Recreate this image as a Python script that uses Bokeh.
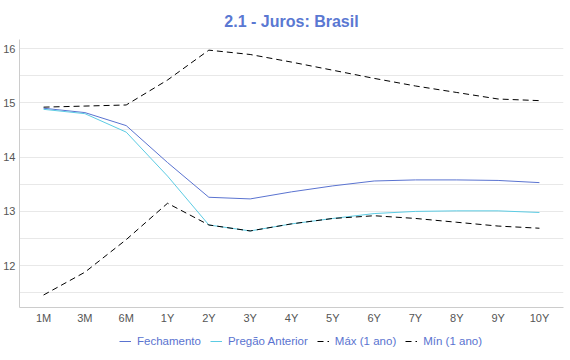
from bokeh.plotting import figure
from bokeh.layouts import column
from bokeh.models import FactorRange, Range1d, Legend, LegendItem, SingleIntervalTicker, ColumnDataSource
from bokeh.embed import file_html
from bokeh.resources import INLINE

categories = ["1M", "3M", "6M", "1Y", "2Y", "3Y", "4Y", "5Y", "6Y", "7Y", "8Y", "9Y", "10Y"]
fechamento = [14.90, 14.82, 14.58, 13.90, 13.26, 13.23, 13.36, 13.47, 13.56, 13.58, 13.58, 13.57, 13.53]
pregao_anterior = [14.88, 14.80, 14.46, 13.65, 12.75, 12.64, 12.77, 12.87, 12.96, 13.00, 13.01, 13.01, 12.98]
maximo = [14.92, 14.94, 14.96, 15.42, 15.97, 15.89, 15.75, 15.60, 15.45, 15.31, 15.19, 15.07, 15.04]
minimo = [11.46, 11.88, 12.48, 13.15, 12.75, 12.64, 12.77, 12.87, 12.92, 12.87, 12.80, 12.73, 12.69]
series_names = ["Fechamento", "Pregão Anterior", "Máx (1 ano)", "Mín (1 ano)"]

FONT = "Liberation Sans"
BLUE = "#5a73d0"
CYAN = "#5ccbe3"
TITLE_BLUE = "#5a78d2"
styles = [dict(line_color=BLUE), dict(line_color=CYAN),
          dict(line_color="black", line_dash="6 4"), dict(line_color="black", line_dash="6 4")]

src = ColumnDataSource(dict(x=categories, f=fechamento, p=pregao_anterior, mx=maximo, mn=minimo))

p = figure(frame_width=544, frame_height=268,
           x_range=FactorRange(*categories, range_padding=0.0127),
           y_range=Range1d(11.23, 16.166), output_backend="svg", toolbar_location=None,
           title="2.1 - Juros: Brasil")
p.title.align = "center"
p.title.text_font = FONT
p.title.text_font_size = "16px"
p.title.text_font_style = "bold"
p.title.text_color = TITLE_BLUE
p.title.standoff = 20
p.outline_line_color = None
p.min_border_left = 0
p.min_border_right = 2
p.min_border_top = 0
p.min_border_bottom = 20

for col, st in zip(["f", "p", "mx", "mn"], styles):
    p.line("x", col, source=src, line_width=1, **st)

p.yaxis.ticker = SingleIntervalTicker(interval=1)
p.ygrid.ticker = SingleIntervalTicker(interval=0.5)
p.ygrid.grid_line_color = "#e8e8e8"
p.xgrid.grid_line_color = None
for ax in (p.xaxis, p.yaxis):
    ax.major_tick_line_color = None
    ax.minor_tick_line_color = None
    ax.major_tick_out = 0
    ax.major_tick_in = 0
    ax.minor_tick_out = 0
    ax.axis_line_color = "#cccccc"
    ax.major_label_text_font = FONT
    ax.major_label_text_font_size = "11px"
    ax.major_label_text_color = "#555555"
p.yaxis.major_label_standoff = 4
p.xaxis.major_label_standoff = 4

# legend strip
lg = figure(width=559, height=32, output_backend="svg", toolbar_location=None,
            x_axis_type=None, y_axis_type=None, x_range=Range1d(0, 1), y_range=Range1d(0, 1),
            min_border=0)
lg.outline_line_color = None
lg.xgrid.grid_line_color = None
lg.ygrid.grid_line_color = None
items = []
for name, st in zip(series_names, styles):
    # renderer kept outside the visible range: only its legend glyph is shown
    r = lg.line(x=[5, 6], y=[5, 6], line_width=1, **st)
    items.append(LegendItem(label=name, renderers=[r]))
legend = Legend(items=items, orientation="horizontal", location=(100, 12))
legend.label_text_font = FONT
legend.label_text_font_size = "11.5px"
legend.label_text_color = BLUE
legend.glyph_width = 12
legend.glyph_height = 12
legend.label_height = 12
legend.label_standoff = 6
legend.spacing = 9
legend.border_line_color = None
legend.background_fill_alpha = 0
legend.padding = 0
legend.margin = 0
lg.add_layout(legend, "center")

layout = column(p, lg, spacing=0)
open("out.html", "w").write(file_html(layout, INLINE))
